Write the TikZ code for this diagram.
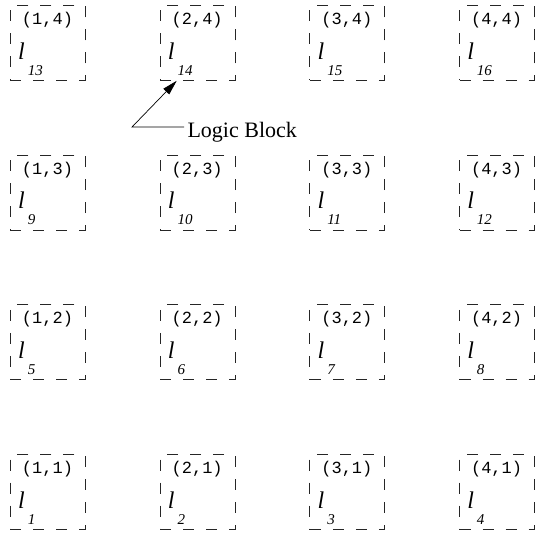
\documentclass[tikz,border=0pt]{standalone}
\usepackage{fontspec}
\setmainfont{Liberation Serif}
\newfontfamily\cellfont{Liberation Mono}
\usetikzlibrary{arrows.meta,positioning,calc}

\begin{document}
\begin{tikzpicture}[x=1pt, y=-1pt,
    cellbox/.style={draw=black!85, line width=0.8pt, dash pattern=on 11pt off 12pt,
      minimum width=75pt, minimum height=75pt, anchor=north west, inner sep=0pt},
    cellno/.style={font=\cellfont\fontsize{17}{17}\selectfont, inner sep=0pt},
    blockname/.style={font=\fontsize{24}{24}\selectfont\itshape, anchor=base west, inner sep=0pt}]
    \useasboundingbox (0,0) rectangle (535,536);
    \foreach \c in {1,...,4}{
      \foreach \r in {1,...,4}{
        \pgfmathtruncatemacro{\n}{\c+4*(\r-1)}
        \node[cellbox] (b-\c-\r) at ({10+(\c-1)*149.7},{5+(4-\r)*149.7}) {};
        \node[cellno] (t-\c-\r) at ($(b-\c-\r.north west)+(37.5,15)$) {(\c,\r)};
        \node[blockname] (l-\c-\r) at ($(b-\c-\r.north west)+(8,54)$)
          {l\hspace{3pt}\raisebox{-16pt}{\fontsize{15}{15}\selectfont\n}};
      }
    }
    % pointer to one logic block
    \node[font=\fontsize{22}{22}\selectfont, anchor=base west] (lbl) at (184,137) {Logic Block};
    \coordinate (elbow) at (132,127);
    \coordinate (tip) at ($(b-2-4.south west)+(17,0)$);
    \draw[line width=0.7pt, -{Triangle[length=15pt,width=8pt]}] (lbl.west |- elbow) -- (elbow) -- (tip);
  \end{tikzpicture}
\end{document}
